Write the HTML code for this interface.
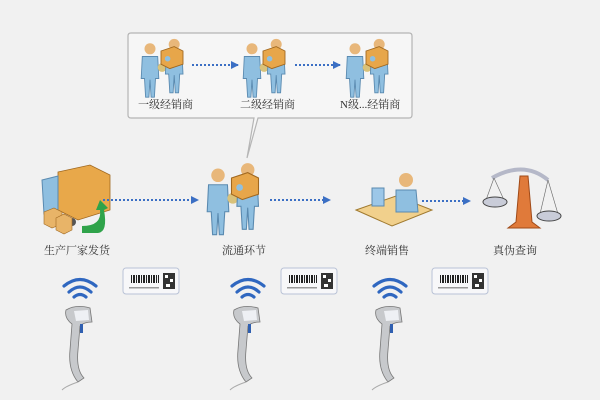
<!DOCTYPE html>
<html><head><meta charset="utf-8"><style>
html,body{margin:0;padding:0;background:#f1f1f1}
svg{display:block}
text{font-family:"Liberation Serif","Noto Serif CJK SC",serif;font-size:11px;fill:#333}
</style></head><body>
<svg width="600" height="400" viewBox="0 0 600 400" xmlns="http://www.w3.org/2000/svg">
<defs>
<marker id="ar" markerWidth="8" markerHeight="8" refX="7" refY="4" orient="auto" markerUnits="userSpaceOnUse"><path d="M0,0 L8,4 L0,8z" fill="#3b6fc4"/></marker>
<g id="man">
<circle cx="0" cy="-22" r="5" fill="#e8b77a"/>
<path d="M-7,-15 L7,-15 L8,5 L5,5 L4,22 L1,22 L0,6 L-1,22 L-4,22 L-5,5 L-8,5z" fill="#8fbfe0" stroke="#5a8ab0" stroke-width="0.8"/>
</g>
<g id="pair">
<use href="#man" x="0" y="0"/>
<circle cx="11" cy="-5" r="4" fill="#d9c27a"/>
<use href="#man" x="22" y="-4"/>
<path d="M10,-20 L22,-24 L30,-20 L30,-8 L18,-4 L10,-8z" fill="#e7a64a" stroke="#a06820" stroke-width="0.8"/>
<circle cx="16" cy="-13" r="2.5" fill="#8fc0e0"/>
</g>
<g id="wifi" fill="none" stroke="#2f67c0" stroke-width="3.2" stroke-linecap="round">
<path d="M-16,-4 Q0,-17 16,-4"/><path d="M-11,2 Q0,-8 11,2"/><path d="M-6,7 Q0,2 6,7"/>
</g>
<g id="scan">
<path d="M0,0 Q10,-6 24,-2 L26,12 Q18,12 14,16 L12,40 Q10,60 18,68 L12,72 Q2,60 4,40 L6,14 Q-2,8 0,0z" fill="#c7c9cc" stroke="#777" stroke-width="0.8"/>
<path d="M8,1 L22,0 L23,10 L10,11z" fill="#eef0f4"/>
<rect x="14" y="14" width="3" height="9" fill="#2f5fb0"/>
<path d="M12,72 Q0,76 -4,80" fill="none" stroke="#aaa" stroke-width="1"/>
</g>
<g id="label">
<rect x="0" y="0" width="56" height="26" rx="3" fill="#f7f7f9" stroke="#b9c2d6"/>
<g fill="#222">
<rect x="8" y="7" width="1" height="8"/><rect x="10" y="7" width="2" height="8"/><rect x="13" y="7" width="1" height="8"/><rect x="15" y="7" width="2" height="8"/><rect x="18" y="7" width="1" height="8"/><rect x="20" y="7" width="2" height="8"/><rect x="23" y="7" width="1" height="8"/><rect x="25" y="7" width="2" height="8"/><rect x="28" y="7" width="1" height="8"/><rect x="30" y="7" width="2" height="8"/><rect x="33" y="7" width="1" height="8"/><rect x="35" y="7" width="1" height="8"/>
<rect x="40" y="5" width="12" height="16" fill="#333"/>
</g>
<rect x="42" y="7" width="3" height="3" fill="#fff"/><rect x="47" y="11" width="3" height="3" fill="#fff"/><rect x="43" y="16" width="4" height="3" fill="#fff"/>
<rect x="6" y="19" width="30" height="1.5" fill="#999"/>
</g>
</defs>

<!-- callout -->
<path d="M131,33 L409,33 Q412,33 412,36 L412,115 Q412,118 409,118 L258,118 L247,158 L254,118 L131,118 Q128,118 128,115 L128,36 Q128,33 131,33z" fill="#f6f6f6" stroke="#b5b5b5" stroke-width="1.2"/>
<g transform="translate(150,73) scale(1.1)"><use href="#pair"/></g>
<g transform="translate(252,73) scale(1.1)"><use href="#pair"/></g>
<g transform="translate(355,73) scale(1.1)"><use href="#pair"/></g>
<line x1="192" y1="65" x2="238" y2="65" stroke="#3b6fc4" stroke-width="2" stroke-dasharray="2,2" marker-end="url(#ar)"/>
<line x1="295" y1="65" x2="340" y2="65" stroke="#3b6fc4" stroke-width="2" stroke-dasharray="2,2" marker-end="url(#ar)"/>
<text x="138" y="108">一级经销商</text>
<text x="240" y="108">二级经销商</text>
<text x="340" y="108">N级...经销商</text>

<!-- truck -->
<path d="M58,172 L90,165 L110,175 L110,210 L78,220 L58,210z" fill="#e8a84a" stroke="#a06820" stroke-width="0.8"/>
<path d="M42,180 L58,176 L58,210 L44,214z" fill="#8fbfe0" stroke="#5a8ab0"/>
<circle cx="50" cy="216" r="4" fill="#555"/><circle cx="72" cy="222" r="4" fill="#555"/>
<path d="M44,212 L54,208 L62,212 L62,224 L52,228 L44,224z" fill="#e8b468" stroke="#a06820" stroke-width="0.6"/>
<path d="M56,218 L64,214 L72,218 L72,230 L64,234 L56,230z" fill="#e8b468" stroke="#a06820" stroke-width="0.6"/>
<path d="M82,233 L98,233 Q108,232 104,210 L108,208 L100,200 L96,210 L100,210 Q102,226 82,226z" fill="#2fa34a"/>
<!-- flow people -->
<g transform="translate(218,205) scale(1.35)"><use href="#pair"/></g>
<!-- desk -->
<path d="M356,210 L396,196 L432,210 L392,226z" fill="#f1d08c" stroke="#a07a30"/>
<rect x="372" y="188" width="12" height="18" fill="#9cc7e8" stroke="#5a8ab0"/>
<circle cx="406" cy="180" r="7" fill="#e8b77a"/>
<path d="M396,190 L416,190 L418,212 L396,212z" fill="#8fbfe0" stroke="#5a8ab0"/>
<!-- scales -->
<path d="M520,176 L528,176 L532,222 L540,228 L508,228 L516,222z" fill="#e07a3a" stroke="#a04a18"/>
<path d="M492,178 Q524,160 548,180" fill="none" stroke="#b5b8c8" stroke-width="4"/>
<line x1="494" y1="178" x2="486" y2="200" stroke="#666" stroke-width="0.6"/><line x1="494" y1="178" x2="504" y2="200" stroke="#666" stroke-width="0.6"/>
<ellipse cx="495" cy="202" rx="12" ry="5" fill="#c9ccd8" stroke="#444"/>
<line x1="548" y1="180" x2="540" y2="214" stroke="#666" stroke-width="0.6"/><line x1="548" y1="180" x2="558" y2="214" stroke="#666" stroke-width="0.6"/>
<ellipse cx="549" cy="216" rx="12" ry="5" fill="#c9ccd8" stroke="#444"/>

<line x1="103" y1="200" x2="198" y2="200" stroke="#3b6fc4" stroke-width="2" stroke-dasharray="2,2" marker-end="url(#ar)"/>
<line x1="270" y1="200" x2="330" y2="200" stroke="#3b6fc4" stroke-width="2" stroke-dasharray="2,2" marker-end="url(#ar)"/>
<line x1="422" y1="201" x2="470" y2="201" stroke="#3b6fc4" stroke-width="2" stroke-dasharray="2,2" marker-end="url(#ar)"/>

<text x="44" y="254">生产厂家发货</text>
<text x="222" y="254">流通环节</text>
<text x="365" y="254">终端销售</text>
<text x="493" y="254">真伪查询</text>

<use href="#wifi" x="80" y="290"/>
<use href="#wifi" x="248" y="290"/>
<use href="#wifi" x="390" y="290"/>
<use href="#label" x="123" y="268"/>
<use href="#label" x="281" y="268"/>
<use href="#label" x="432" y="268"/>
<use href="#scan" x="66" y="310"/>
<use href="#scan" x="234" y="310"/>
<use href="#scan" x="376" y="310"/>
</svg>
</body></html>
